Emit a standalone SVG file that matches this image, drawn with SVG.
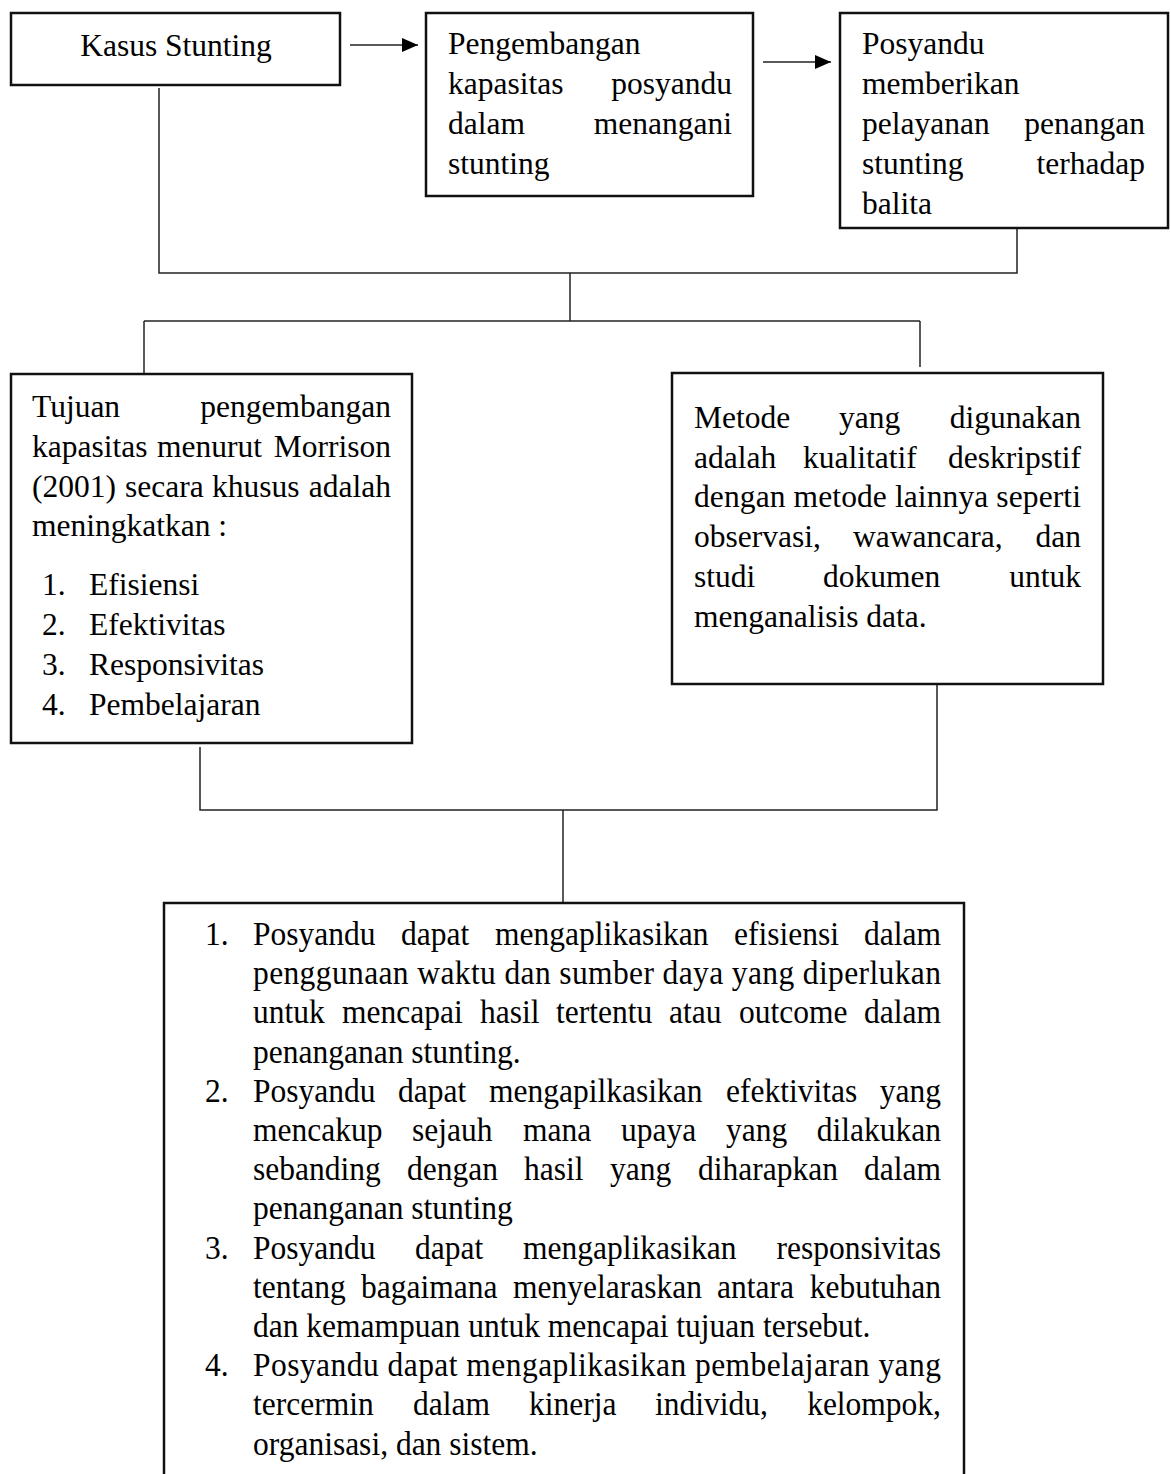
<svg xmlns="http://www.w3.org/2000/svg" width="1171" height="1474" viewBox="0 0 1171 1474">
<style>
.bg{fill:#fff}
.box{fill:#fff;stroke:#111;stroke-width:2.5}
.c{fill:none;stroke:#222;stroke-width:1.5}
.t{font-family:"Liberation Serif","Times New Roman",serif;font-size:31.5px;fill:#000}
.e{text-anchor:end}
.m{text-anchor:middle}
</style>
<defs>
<marker id="ah" viewBox="0 0 16 14" refX="16" refY="7" markerWidth="16" markerHeight="14" markerUnits="userSpaceOnUse" orient="auto">
<path d="M0,0 L16,7 L0,14 Z" fill="#000"/>
</marker>
</defs>
<rect class="bg" x="0" y="0" width="1171" height="1474"/>

<g id="connectors">
<line class="c" x1="350" y1="45" x2="418" y2="45" marker-end="url(#ah)"/>
<line class="c" x1="763" y1="62" x2="831" y2="62" marker-end="url(#ah)"/>
<polyline class="c" points="159,88 159,273 1017,273 1017,229"/>
<line class="c" x1="570" y1="273" x2="570" y2="321"/>
<line class="c" x1="144" y1="321" x2="920" y2="321"/>
<line class="c" x1="144" y1="321" x2="144" y2="374"/>
<line class="c" x1="920" y1="321" x2="920" y2="367"/>
<polyline class="c" points="200,747 200,810 937,810 937,684"/>
<line class="c" x1="563" y1="810" x2="563" y2="903"/>
</g>

<g id="kasus">
<rect class="box" x="11" y="13" width="329" height="72"/>
<text class="t m" x="176" y="56">Kasus Stunting</text>
</g>

<g id="pengembangan">
<rect class="box" x="426" y="13" width="327" height="183"/>
<text class="t" x="448" y="54">Pengembangan</text>
<text class="t" x="448" y="94">kapasitas</text><text class="t e" x="732" y="94">posyandu</text>
<text class="t" x="448" y="134">dalam</text><text class="t e" x="732" y="134">menangani</text>
<text class="t" x="448" y="174">stunting</text>
</g>

<g id="posyandu">
<rect class="box" x="840" y="13" width="328" height="215"/>
<text class="t" x="862" y="54">Posyandu</text>
<text class="t" x="862" y="94">memberikan</text>
<text class="t" x="862" y="134">pelayanan</text><text class="t e" x="1145" y="134">penangan</text>
<text class="t" x="862" y="174">stunting</text><text class="t e" x="1145" y="174">terhadap</text>
<text class="t" x="862" y="214">balita</text>
</g>

<g id="tujuan">
<rect class="box" x="11" y="374" width="401" height="369"/>
<text class="t" x="32" y="417">Tujuan</text><text class="t e" x="391" y="417">pengembangan</text>
<text class="t" x="32" y="457">kapasitas</text><text class="t" x="157" y="457">menurut</text><text class="t e" x="391" y="457">Morrison</text>
<text class="t" x="32" y="497">(2001)</text><text class="t" x="125" y="497">secara</text><text class="t" x="212" y="497">khusus</text><text class="t e" x="391" y="497">adalah</text>
<text class="t" x="32" y="536">meningkatkan :</text>
<text class="t" x="42" y="595">1.</text><text class="t" x="89" y="595">Efisiensi</text>
<text class="t" x="42" y="635">2.</text><text class="t" x="89" y="635">Efektivitas</text>
<text class="t" x="42" y="675">3.</text><text class="t" x="89" y="675">Responsivitas</text>
<text class="t" x="42" y="715">4.</text><text class="t" x="89" y="715">Pembelajaran</text>
</g>

<g id="metode">
<rect class="box" x="672" y="373" width="431" height="311"/>
<text class="t" x="694" y="428">Metode</text><text class="t" x="839" y="428">yang</text><text class="t e" x="1081" y="428">digunakan</text>
<text class="t" x="694" y="468">adalah</text><text class="t" x="803" y="468">kualitatif</text><text class="t e" x="1081" y="468">deskripstif</text>
<text class="t" x="694" y="507" textLength="387" lengthAdjust="spacing">dengan metode lainnya seperti</text>
<text class="t" x="694" y="547">observasi,</text><text class="t" x="853" y="547">wawancara,</text><text class="t e" x="1081" y="547">dan</text>
<text class="t" x="694" y="587">studi</text><text class="t" x="823" y="587">dokumen</text><text class="t e" x="1081" y="587">untuk</text>
<text class="t" x="694" y="627">menganalisis data.</text>
</g>

<g id="hasil">
<path class="box" d="M164,1476 L164,903 L964,903 L964,1476"/>
<g transform="translate(0,945) scale(1,1.1)">
<text class="t" x="205" y="0">1.</text>
<text class="t" x="253" y="0">Posyandu</text><text class="t" x="401" y="0">dapat</text><text class="t" x="495" y="0">mengaplikasikan</text><text class="t" x="734" y="0">efisiensi</text><text class="t e" x="941" y="0">dalam</text>
<text class="t" x="253" y="35.64" textLength="688" lengthAdjust="spacing">penggunaan waktu dan sumber daya yang diperlukan</text>
<text class="t" x="253" y="71.27">untuk</text><text class="t" x="342" y="71.27">mencapai</text><text class="t" x="480" y="71.27">hasil</text><text class="t" x="556" y="71.27">tertentu</text><text class="t" x="669" y="71.27">atau</text><text class="t" x="739" y="71.27">outcome</text><text class="t e" x="941" y="71.27">dalam</text>
<text class="t" x="253" y="106.91">penanganan stunting.</text>
<text class="t" x="205" y="142.55">2.</text>
<text class="t" x="253" y="142.55">Posyandu</text><text class="t" x="398" y="142.55">dapat</text><text class="t" x="489" y="142.55">mengapilkasikan</text><text class="t" x="726" y="142.55">efektivitas</text><text class="t e" x="941" y="142.55">yang</text>
<text class="t" x="253" y="178.18">mencakup</text><text class="t" x="412" y="178.18">sejauh</text><text class="t" x="523" y="178.18">mana</text><text class="t" x="621" y="178.18">upaya</text><text class="t" x="726" y="178.18">yang</text><text class="t e" x="941" y="178.18">dilakukan</text>
<text class="t" x="253" y="213.82">sebanding</text><text class="t" x="407" y="213.82">dengan</text><text class="t" x="524" y="213.82">hasil</text><text class="t" x="610" y="213.82">yang</text><text class="t" x="698" y="213.82">diharapkan</text><text class="t e" x="941" y="213.82">dalam</text>
<text class="t" x="253" y="249.45">penanganan stunting</text>
<text class="t" x="205" y="285.09">3.</text>
<text class="t" x="253" y="285.09">Posyandu</text><text class="t" x="415" y="285.09">dapat</text><text class="t" x="523" y="285.09">mengaplikasikan</text><text class="t e" x="941" y="285.09">responsivitas</text>
<text class="t" x="253" y="320.73">tentang</text><text class="t" x="361" y="320.73">bagaimana</text><text class="t" x="513" y="320.73">menyelaraskan</text><text class="t" x="717" y="320.73">antara</text><text class="t e" x="941" y="320.73">kebutuhan</text>
<text class="t" x="253" y="356.36">dan kemampuan untuk mencapai tujuan tersebut.</text>
<text class="t" x="205" y="392">4.</text>
<text class="t" x="253" y="392" textLength="688" lengthAdjust="spacing">Posyandu dapat mengaplikasikan pembelajaran yang</text>
<text class="t" x="253" y="427.64">tercermin</text><text class="t" x="413" y="427.64">dalam</text><text class="t" x="529" y="427.64">kinerja</text><text class="t" x="655" y="427.64">individu,</text><text class="t e" x="941" y="427.64">kelompok,</text>
<text class="t" x="253" y="463.27">organisasi, dan sistem.</text>
</g>
</g>
</svg>
